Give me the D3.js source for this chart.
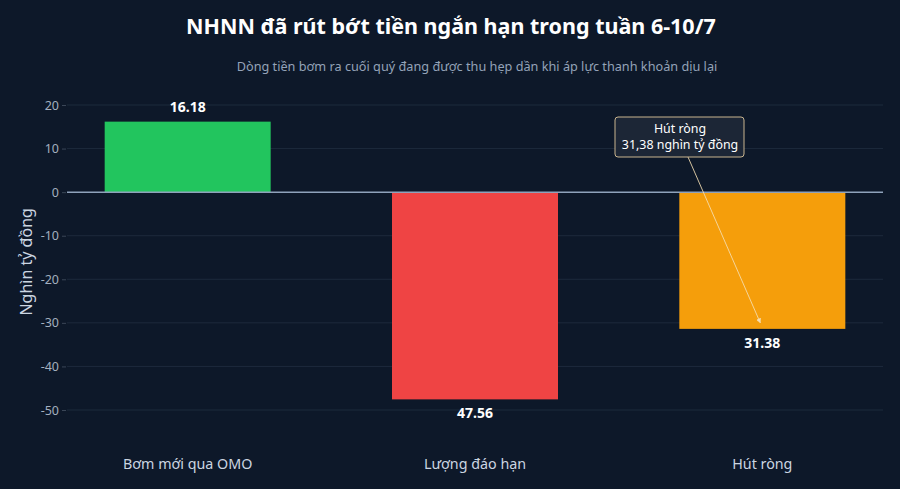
<!DOCTYPE html>
<html>
<head>
<meta charset="utf-8">
<script src="https://cdn.jsdelivr.net/npm/d3@7"></script>
<style>
  html, body { margin: 0; padding: 0; background: #0d1829; }
  svg { display: block; font-family: "Noto Sans", "Open Sans", sans-serif; }
</style>
</head>
<body>
<svg id="chart"></svg>
<script>
const categories = ["Bơm mới qua OMO", "Lượng đáo hạn", "Hút ròng"];
const values = [16.18, -47.56, -31.38];
const labels = ["16.18", "47.56", "31.38"];
const colors = ["#22c55e", "#ef4444", "#f59e0b"];
const yTicks = [20, 10, 0, -10, -20, -30, -40, -50];

const width = 900, height = 489;
const margin = { top: 105, right: 17, bottom: 79, left: 67 };

const svg = d3.select("#chart")
  .attr("width", width)
  .attr("height", height);

svg.append("rect").attr("width", width).attr("height", height).attr("fill", "#0d1829");

const x = d3.scalePoint()
  .domain(categories)
  .range([margin.left, width - margin.right])
  .padding(0.42);

const y = d3.scaleLinear()
  .domain([-50, 20])
  .range([height - margin.bottom, margin.top]);

const barW = 166;

// grid
svg.append("g")
  .selectAll("line")
  .data(yTicks.filter(d => d !== 0))
  .enter()
  .append("line")
  .attr("x1", margin.left)
  .attr("x2", width - margin.right)
  .attr("y1", d => y(d))
  .attr("y2", d => y(d))
  .attr("stroke", "#1d2a3c")
  .attr("stroke-width", 1);

// y axis (plain hyphen minus like the original)
const yAxis = d3.axisLeft(y).tickValues(yTicks).tickSize(4).tickPadding(3)
  .tickFormat(d => String(d));
const ya = svg.append("g")
  .attr("transform", `translate(${margin.left - 1},0)`)
  .call(yAxis);
ya.select(".domain").remove();
ya.selectAll(".tick line").attr("stroke", "#3a4657");
ya.selectAll("text")
  .attr("fill", "#a3afbf")
  .style("font-size", "12.5px")
  .style("font-family", "'Noto Sans', sans-serif");

// bars
svg.selectAll(".bar")
  .data(categories)
  .enter()
  .append("rect")
  .attr("class", "bar")
  .attr("x", d => x(d) - barW / 2)
  .attr("y", (d, i) => y(Math.max(0, values[i])))
  .attr("width", barW)
  .attr("height", (d, i) => Math.abs(y(values[i]) - y(0)))
  .attr("fill", (d, i) => colors[i]);

// zero line
svg.append("line")
  .attr("x1", margin.left)
  .attr("x2", width - margin.right)
  .attr("y1", y(0))
  .attr("y2", y(0))
  .attr("stroke", "#8fa2bb")
  .attr("stroke-width", 1.5);

// value labels
svg.selectAll(".label")
  .data(categories)
  .enter()
  .append("text")
  .attr("class", "label")
  .attr("x", d => x(d))
  .attr("y", (d, i) => values[i] >= 0 ? y(values[i]) - 10 : y(values[i]) + 19)
  .attr("text-anchor", "middle")
  .attr("fill", "#ffffff")
  .style("font-size", "14px")
  .style("font-weight", "bold")
  .text((d, i) => labels[i]);

// x labels
svg.selectAll(".xlab")
  .data(categories)
  .enter()
  .append("text")
  .attr("x", d => x(d))
  .attr("y", 469)
  .attr("text-anchor", "middle")
  .attr("fill", "#cbd5e1")
  .style("font-size", "14.3px")
  .text(d => d);

// y title
svg.append("text")
  .attr("transform", `translate(32,${y(-16)}) rotate(-90)`)
  .attr("text-anchor", "middle")
  .attr("fill", "#cbd5e1")
  .style("font-size", "16px")
  .text("Nghìn tỷ đồng");

// title
svg.append("text")
  .attr("x", 451)
  .attr("y", 34)
  .attr("text-anchor", "middle")
  .attr("fill", "#ffffff")
  .style("font-size", "21.5px")
  .style("font-weight", "bold")
  .text("NHNN đã rút bớt tiền ngắn hạn trong tuần 6-10/7");

svg.append("text")
  .attr("x", 477)
  .attr("y", 71)
  .attr("text-anchor", "middle")
  .attr("fill", "#94a3b8")
  .style("font-size", "12.7px")
  .text("Dòng tiền bơm ra cuối quý đang được thu hẹp dần khi áp lực thanh khoản dịu lại");

// annotation
const defs = svg.append("defs");
defs.append("marker")
  .attr("id", "arrow")
  .attr("viewBox", "0 0 10 10")
  .attr("refX", 9).attr("refY", 5)
  .attr("markerWidth", 5).attr("markerHeight", 5)
  .attr("orient", "auto")
  .append("path")
  .attr("d", "M0,0 L10,5 L0,10 Z")
  .attr("fill", "#f5deb3");

const tipX = x("Hút ròng") - 2, tipY = y(values[2]) - 6;
svg.append("line")
  .attr("x1", 688).attr("y1", 157)
  .attr("x2", tipX).attr("y2", tipY)
  .attr("stroke", "#f5deb3")
  .attr("stroke-opacity", 0.85)
  .attr("stroke-width", 1)
  .attr("marker-end", "url(#arrow)");

svg.append("rect")
  .attr("x", 615).attr("y", 117)
  .attr("width", 129).attr("height", 40)
  .attr("rx", 3)
  .attr("fill", "#1c2636")
  .attr("stroke", "#c9b48f")
  .attr("stroke-width", 1);

svg.append("text")
  .attr("x", 680).attr("y", 133)
  .attr("text-anchor", "middle")
  .attr("fill", "#ffffff")
  .style("font-size", "12.4px")
  .text("Hút ròng");
svg.append("text")
  .attr("x", 680).attr("y", 149)
  .attr("text-anchor", "middle")
  .attr("fill", "#ffffff")
  .style("font-size", "12.4px")
  .text("31,38 nghìn tỷ đồng");
</script>
</body>
</html>
